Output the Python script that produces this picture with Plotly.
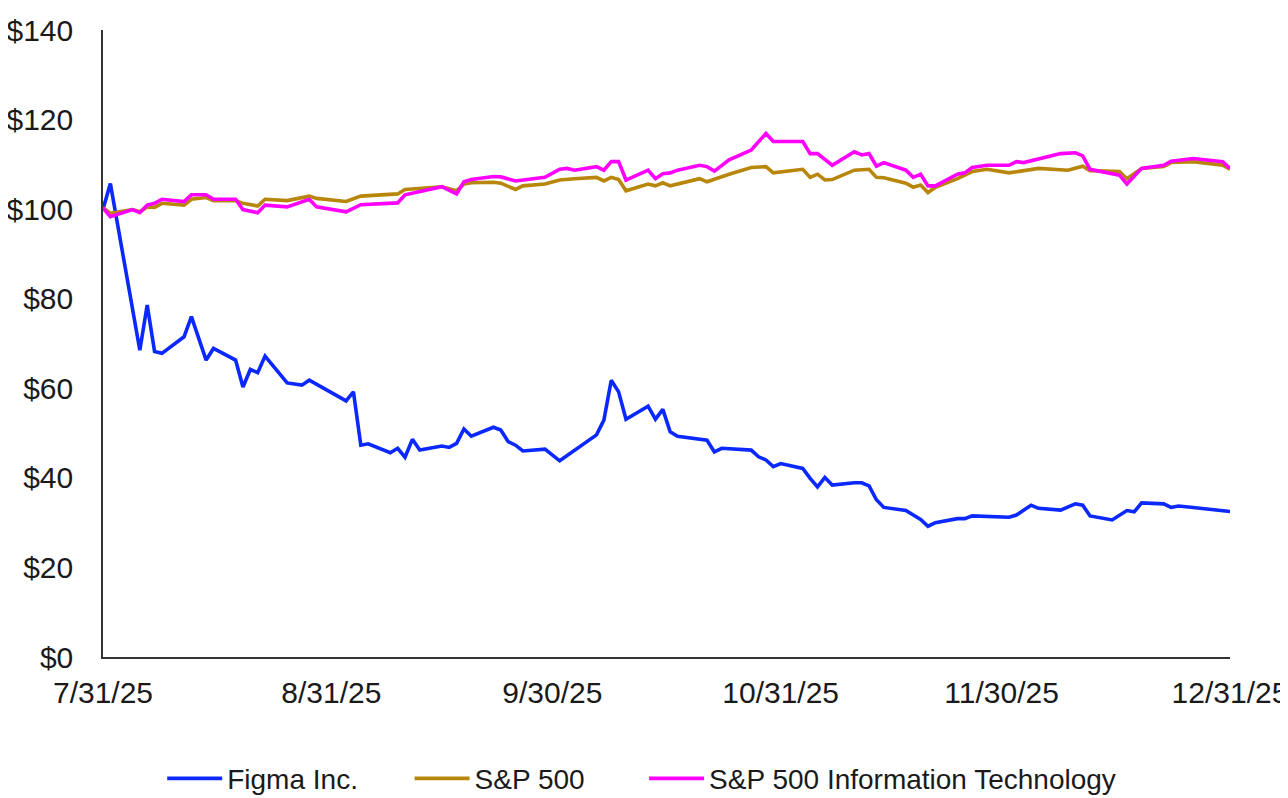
import plotly.graph_objects as go

# ---- Data (indexed to $100 on 7/31/25) ----
figma_dates = [
    "2025-07-31", "2025-08-01", "2025-08-05", "2025-08-06", "2025-08-07", "2025-08-08",
    "2025-08-11", "2025-08-12", "2025-08-14", "2025-08-15", "2025-08-18", "2025-08-19",
    "2025-08-20", "2025-08-21", "2025-08-22", "2025-08-25", "2025-08-27", "2025-08-28",
    "2025-09-02", "2025-09-03", "2025-09-04", "2025-09-05", "2025-09-08", "2025-09-09",
    "2025-09-10", "2025-09-11", "2025-09-12", "2025-09-15", "2025-09-16", "2025-09-17",
    "2025-09-18", "2025-09-19", "2025-09-22", "2025-09-23", "2025-09-24", "2025-09-25",
    "2025-09-26", "2025-09-29", "2025-10-01", "2025-10-06", "2025-10-07", "2025-10-08",
    "2025-10-09", "2025-10-10", "2025-10-13", "2025-10-14", "2025-10-15", "2025-10-16",
    "2025-10-17", "2025-10-20", "2025-10-21", "2025-10-22", "2025-10-23", "2025-10-27",
    "2025-10-28", "2025-10-29", "2025-10-30", "2025-10-31", "2025-11-03", "2025-11-04",
    "2025-11-05", "2025-11-06", "2025-11-07", "2025-11-10", "2025-11-11", "2025-11-12",
    "2025-11-13", "2025-11-14", "2025-11-17", "2025-11-18", "2025-11-19", "2025-11-20",
    "2025-11-21", "2025-11-24", "2025-11-25", "2025-11-26", "2025-11-28", "2025-12-01",
    "2025-12-02", "2025-12-04", "2025-12-05", "2025-12-08", "2025-12-10", "2025-12-11",
    "2025-12-12", "2025-12-15", "2025-12-17", "2025-12-18", "2025-12-19", "2025-12-22",
    "2025-12-23", "2025-12-24", "2025-12-26", "2025-12-29", "2025-12-31",
]
figma_values = [
    100.0, 105.7, 68.5, 78.6, 68.2, 67.8,
    71.5, 76.0, 66.3, 68.9, 66.3, 60.3,
    64.2, 63.5, 67.2, 61.2, 60.7, 61.8,
    57.2, 59.2, 47.3, 47.6, 45.6, 46.6,
    44.6, 48.6, 46.2, 47.1, 46.8, 47.7,
    50.9, 49.3, 51.3, 50.7, 48.1, 47.3,
    46.0, 46.4, 43.8, 49.6, 52.9, 61.8,
    59.2, 53.1, 56.0, 53.1, 55.3, 50.3,
    49.3, 48.6, 48.4, 45.8, 46.6, 46.2,
    44.7, 44.0, 42.5, 43.2, 42.1, 39.9,
    38.0, 40.1, 38.4, 38.9, 38.9, 38.2,
    35.1, 33.4, 32.7, 31.7, 30.7, 29.2,
    30.0, 30.9, 30.9, 31.5, 31.3, 31.2,
    31.7, 33.9, 33.2, 32.8, 34.2, 33.9,
    31.5, 30.6, 32.7, 32.4, 34.4, 34.2,
    33.4, 33.7, 33.4, 32.9, 32.5,
]

sp500_dates = [
    "2025-07-31", "2025-08-01", "2025-08-04", "2025-08-05", "2025-08-06", "2025-08-07",
    "2025-08-08", "2025-08-11", "2025-08-12", "2025-08-14", "2025-08-15", "2025-08-18",
    "2025-08-19", "2025-08-21", "2025-08-22", "2025-08-25", "2025-08-28", "2025-08-29",
    "2025-09-02", "2025-09-04", "2025-09-09", "2025-09-10", "2025-09-15", "2025-09-17",
    "2025-09-18", "2025-09-19", "2025-09-22", "2025-09-23", "2025-09-25", "2025-09-26",
    "2025-09-29", "2025-10-01", "2025-10-03", "2025-10-06", "2025-10-07", "2025-10-08",
    "2025-10-09", "2025-10-10", "2025-10-13", "2025-10-14", "2025-10-15", "2025-10-16",
    "2025-10-20", "2025-10-21", "2025-10-24", "2025-10-27", "2025-10-29", "2025-10-30",
    "2025-11-03", "2025-11-04", "2025-11-05", "2025-11-06", "2025-11-07", "2025-11-10",
    "2025-11-12", "2025-11-13", "2025-11-14", "2025-11-17", "2025-11-18", "2025-11-19",
    "2025-11-20", "2025-11-21", "2025-11-24", "2025-11-26", "2025-11-28", "2025-12-01",
    "2025-12-05", "2025-12-09", "2025-12-11", "2025-12-12", "2025-12-16", "2025-12-17",
    "2025-12-19", "2025-12-22", "2025-12-23", "2025-12-26", "2025-12-30", "2025-12-31",
]
sp500_values = [
    100.3, 99.1, 99.9, 99.4, 100.5, 100.4,
    101.3, 100.9, 102.2, 102.6, 101.9, 101.9,
    101.3, 100.7, 102.2, 101.9, 102.9, 102.4,
    101.7, 102.9, 103.4, 104.4, 105.0, 104.1,
    105.6, 105.9, 106.0, 105.8, 104.4, 105.2,
    105.6, 106.5, 106.8, 107.1, 106.3, 107.1,
    106.6, 104.1, 105.6, 105.2, 105.9, 105.2,
    106.8, 106.1, 107.8, 109.3, 109.5, 108.1,
    108.9, 107.1, 107.8, 106.5, 106.6, 108.7,
    108.9, 107.1, 107.0, 105.8, 104.9, 105.4,
    103.7, 104.9, 106.8, 108.4, 108.9, 108.1,
    109.1, 108.7, 109.6, 108.6, 108.4, 106.8,
    109.1, 109.5, 110.4, 110.6, 109.8, 108.9,
]

it_dates = [
    "2025-07-31", "2025-08-01", "2025-08-04", "2025-08-05", "2025-08-06", "2025-08-07",
    "2025-08-08", "2025-08-11", "2025-08-12", "2025-08-14", "2025-08-15", "2025-08-18",
    "2025-08-19", "2025-08-21", "2025-08-22", "2025-08-25", "2025-08-28", "2025-08-29",
    "2025-09-02", "2025-09-04", "2025-09-09", "2025-09-10", "2025-09-15", "2025-09-17",
    "2025-09-18", "2025-09-19", "2025-09-22", "2025-09-23", "2025-09-25", "2025-09-29",
    "2025-10-01", "2025-10-02", "2025-10-03", "2025-10-06", "2025-10-07", "2025-10-08",
    "2025-10-09", "2025-10-10", "2025-10-13", "2025-10-14", "2025-10-15", "2025-10-16",
    "2025-10-17", "2025-10-20", "2025-10-21", "2025-10-22", "2025-10-24", "2025-10-27",
    "2025-10-29", "2025-10-30", "2025-11-03", "2025-11-04", "2025-11-05", "2025-11-07",
    "2025-11-10", "2025-11-11", "2025-11-12", "2025-11-13", "2025-11-14", "2025-11-17",
    "2025-11-18", "2025-11-19", "2025-11-20", "2025-11-21", "2025-11-24", "2025-11-25",
    "2025-11-26", "2025-11-28", "2025-12-01", "2025-12-02", "2025-12-03", "2025-12-08",
    "2025-12-10", "2025-12-11", "2025-12-12", "2025-12-16", "2025-12-17", "2025-12-19",
    "2025-12-22", "2025-12-23", "2025-12-26", "2025-12-30", "2025-12-31",
]
it_values = [
    100.3, 98.3, 99.9, 99.2, 100.9, 101.3,
    102.2, 101.7, 103.2, 103.2, 102.2, 102.2,
    99.9, 99.2, 100.9, 100.5, 102.2, 100.5,
    99.4, 101.0, 101.4, 103.2, 105.0, 103.4,
    106.1, 106.6, 107.3, 107.2, 106.3, 107.1,
    108.9, 109.1, 108.7, 109.5, 108.7, 110.6,
    110.6, 106.5, 108.7, 106.8, 107.9, 108.1,
    108.7, 109.8, 109.5, 108.5, 111.0, 113.2,
    116.9, 115.1, 115.1, 112.4, 112.4, 109.8,
    112.8, 112.1, 112.4, 109.6, 110.4, 108.7,
    107.1, 107.8, 105.2, 105.2, 107.8, 108.1,
    109.3, 109.8, 109.8, 110.6, 110.4, 112.4,
    112.6, 111.9, 108.9, 107.6, 105.6, 109.1,
    109.8, 110.7, 111.3, 110.6, 109.1,
]

tick_dates = ["2025-07-31", "2025-08-31", "2025-09-30", "2025-10-31", "2025-11-30", "2025-12-31"]
tick_labels = ["7/31/25", "8/31/25", "9/30/25", "10/31/25", "11/30/25", "12/31/25"]
y_ticks = [0, 20, 40, 60, 80, 100, 120, 140]
y_labels = ["$" + str(v) for v in y_ticks]

series_names = ["Figma Inc.", "S&P 500", "S&P 500 Information Technology"]
series_colors = ["#0a28ff", "#b8860b", "#ff00ff"]
legend_pad = [6, 7, 0]  # trailing non-breaking spaces for legend spacing

FONT = "Liberation Sans, Arial, sans-serif"

fig = go.Figure()
for (xs, ys), name, color, pad in zip(
        [(figma_dates, figma_values), (sp500_dates, sp500_values), (it_dates, it_values)],
        series_names, series_colors, legend_pad):
    fig.add_trace(go.Scatter(x=xs, y=ys, mode="lines", name=name + "\u00a0" * pad,
                             line=dict(color=color, width=3.6)))

fig.update_layout(
    width=1280, height=790,
    margin=dict(l=95, r=58, t=22, b=141, autoexpand=False),
    paper_bgcolor="white", plot_bgcolor="white",
    font=dict(family=FONT, size=28, color="#1a1a1a"),
    showlegend=True,
    legend=dict(orientation="h", x=0.478, xanchor="center", y=-0.194, yanchor="middle",
                font=dict(size=28), itemwidth=55, traceorder="normal"),
)
fig.update_xaxes(
    type="date", range=["2025-07-31", "2025-12-31"],
    tickvals=tick_dates, ticktext=tick_labels,
    showgrid=False, zeroline=False, automargin=False,
    showline=True, linecolor="#333333", linewidth=1.5,
    ticks="outside", ticklen=8, tickcolor="rgba(0,0,0,0)",
    tickfont=dict(size=30), ticklabeloverflow="allow",
)
fig.update_yaxes(
    range=[0, 140], tickvals=y_ticks, ticktext=y_labels,
    showgrid=False, zeroline=False, automargin=False,
    showline=True, linecolor="#333333", linewidth=1.5,
    ticks="outside", ticklen=22, tickcolor="rgba(0,0,0,0)",
    tickfont=dict(size=30), ticklabeloverflow="allow",
)

fig.write_html("out.html")
